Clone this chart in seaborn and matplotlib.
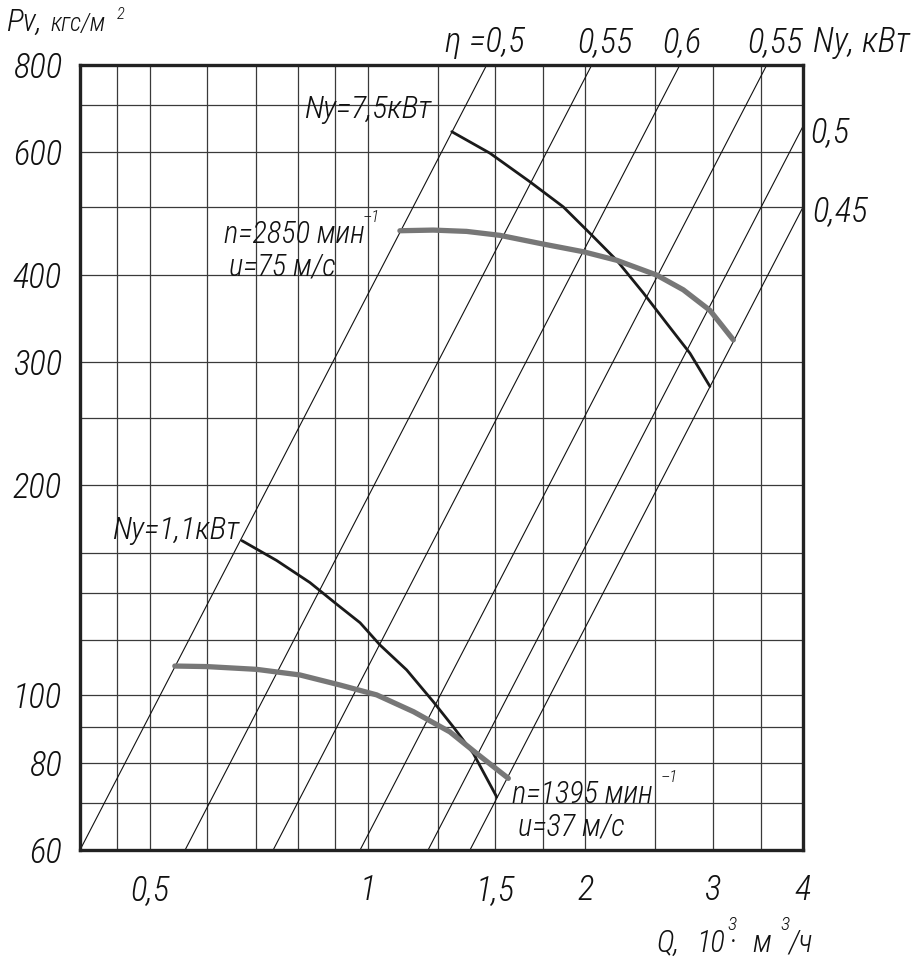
import numpy as np
import pandas as pd
import seaborn as sns
import matplotlib.pyplot as plt
from matplotlib.ticker import NullFormatter

# Axis ranges and grid (Q in 10^3 m3/h, Pv in kgf/m2)
q_lim = [0.4, 4]
p_lim = [60, 800]
q_grid = [0.45, 0.5, 0.6, 0.7, 0.8, 0.9, 1.0, 1.25, 1.5, 1.75, 2, 2.5, 3, 3.5]
p_grid = [70, 80, 90, 100, 120, 140, 160, 200, 250, 300, 400, 500, 600, 700]
q_ticks = [0.4, 0.5, 1, 1.5, 2, 3, 4]
q_tick_labels = ['', '0,5', '1', '1,5', '2', '3', '4']
p_ticks = [60, 80, 100, 200, 300, 400, 600, 800]
p_tick_labels = ['60', '80', '100', '200', '300', '400', '600', '800']

# Efficiency lines P = k*Q^2, given by Q where they cross P = 60
eff_q_at_60 = [0.4, 0.559, 0.740, 0.976, 1.212, 1.385]

# n = 2850 1/min : pressure and power (Ny = 7.5 kW) curves
q_p2850 = [1.108, 1.232, 1.370, 1.524, 1.731, 1.987, 2.210, 2.510, 2.732, 2.974, 3.204]
p_p2850 = [463, 464, 462, 456, 444, 432, 420, 400, 381, 356, 323]
q_n2850 = [1.307, 1.476, 1.677, 1.864, 2.030, 2.210, 2.406, 2.592, 2.791, 2.974]
p_n2850 = [642, 598, 544, 501, 459, 420, 377, 341, 309, 277]

# n = 1395 1/min : pressure and power (Ny = 1.1 kW) curves
q_p1395 = [0.541, 0.599, 0.702, 0.806, 0.916, 1.029, 1.157, 1.299, 1.415, 1.565]
p_p1395 = [110.1, 109.9, 108.9, 106.9, 103.4, 100.1, 94.7, 88.6, 82.5, 76.0]
q_n1395 = [0.670, 0.748, 0.832, 0.906, 0.976, 1.040, 1.132, 1.232, 1.313, 1.400, 1.508]
p_n1395 = [166.5, 156, 145, 135, 127, 118, 108.7, 97.9, 90.1, 82.5, 71.5]

sns.set_theme(style='white')
plt.rcParams['font.family'] = ['Roboto Condensed', 'Liberation Sans Narrow', 'DejaVu Sans']
plt.rcParams['font.style'] = 'italic'
plt.rcParams['font.weight'] = 'light'

W, H = 920, 964
fig = plt.figure(figsize=(W / 100, H / 100), dpi=100)
ax = fig.add_axes([80 / W, 1 - 850 / H, (803 - 80) / W, (850 - 65) / H])
ax.set_xscale('log')
ax.set_yscale('log')
ax.set_xlim(q_lim)
ax.set_ylim(p_lim)

# grid
ax.set_xticks(q_grid, minor=True)
ax.set_yticks(p_grid, minor=True)
ax.xaxis.set_minor_formatter(NullFormatter())
ax.yaxis.set_minor_formatter(NullFormatter())
ax.set_xticks(q_ticks, q_tick_labels)
ax.set_yticks(p_ticks, p_tick_labels)
ax.grid(which='both', color='#3a3a3a', lw=0.9)
ax.tick_params(which='minor', length=0)
ax.tick_params(which='major', length=12, width=2.2, color='#222222',
               labelsize=25, labelcolor='#111111', pad=1, direction='out')
ax.tick_params(axis='x', pad=5)
for s in ax.spines.values():
    s.set_linewidth(2.4)
    s.set_color('#222222')

# efficiency lines
ratio = np.sqrt(p_lim[1] / p_lim[0])
for q0 in eff_q_at_60:
    d = pd.DataFrame({'Q': [q0, q0 * ratio], 'P': p_lim})
    sns.lineplot(data=d, x='Q', y='P', ax=ax, color='#111111', lw=0.8)

curves = [
    (q_n2850, p_n2850, '#1a1a1a', 2.0),
    (q_p2850, p_p2850, '#777777', 3.8),
    (q_n1395, p_n1395, '#1a1a1a', 2.0),
    (q_p1395, p_p1395, '#777777', 3.8),
]
for q, p, c, w in curves:
    d = pd.DataFrame({'Q': q, 'P': p})
    sns.lineplot(data=d, x='Q', y='P', ax=ax, color=c, lw=w, sort=False,
                 solid_capstyle='round', solid_joinstyle='round')
ax.set_xlabel('')
ax.set_ylabel('')


def put(x, y, s, size, ha='left', va='baseline', **kw):
    fig.text(x / W, 1 - y / H, s, fontsize=size, ha=ha, va=va,
             color='#111111', **kw)


# axis titles
put(6, 31, 'Pv,', 23)
put(50, 31, 'кгс/м', 18)
put(117, 19, '2', 12)
put(656, 952, 'Q,', 22)
put(696, 952, '10', 22)
put(727, 930, '3', 14)
put(731, 946, '•', 10)
put(752, 952, 'м', 22)
put(780, 930, '3', 14)
put(788, 952, '/ч', 22)

# efficiency labels
put(445, 52, 'η =0,5', 25)
put(577, 52, '0,55', 25)
put(662, 52, '0,6', 25)
put(747, 52, '0,55', 25)
put(813, 52, 'Ny, кВт', 25)
put(810, 142, '0,5', 25)
put(812, 221, '0,45', 25)

# curve labels
put(304, 118, 'Ny=7,5кВт', 23)
put(224, 243, 'n=2850 мин', 22)
put(363, 222, '–1', 12)
put(229, 276, 'u=75 м/с', 22)
put(112, 539, 'Ny=1,1кВт', 23)
put(512, 803, 'n=1395 мин', 22)
put(661, 782, '–1', 12)
put(518, 835, 'u=37 м/с', 22)

fig.savefig('out.png', dpi=100)
